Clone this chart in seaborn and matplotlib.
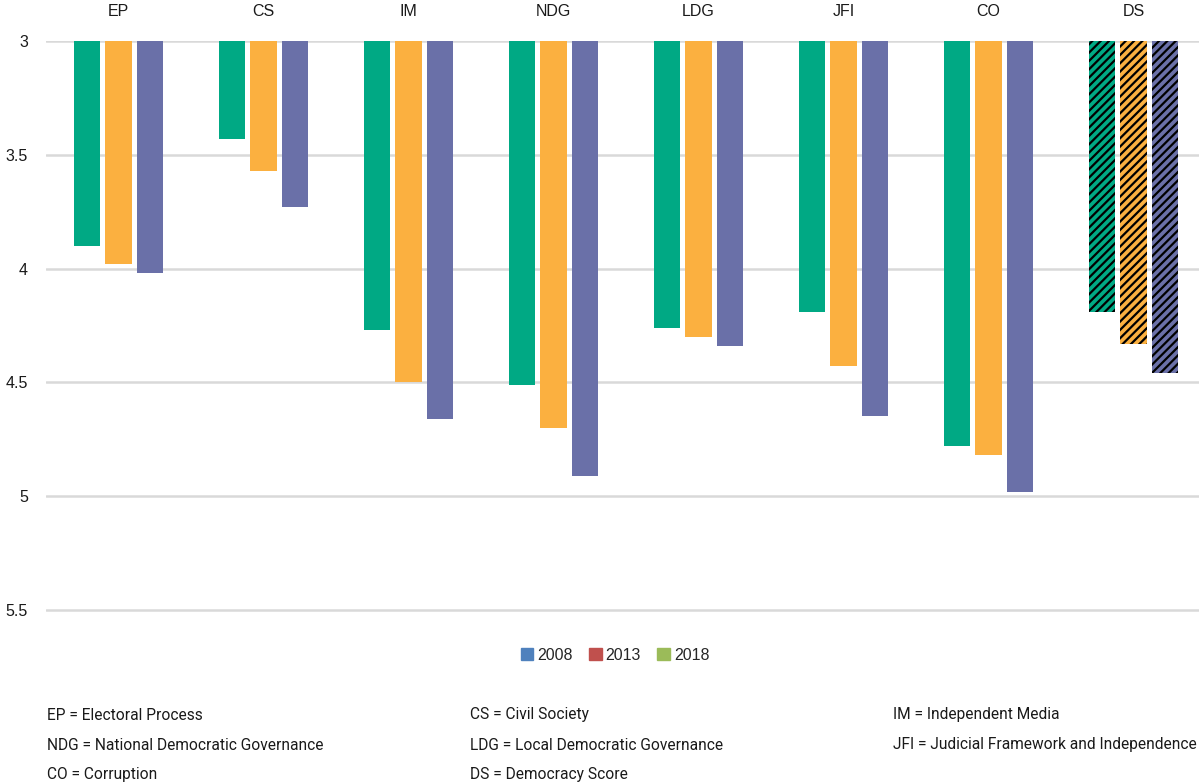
import pandas as pd
import seaborn as sns
import matplotlib.pyplot as plt
import matplotlib.patches as mpatches

# Nations in Transit category scores
categories = ["EP", "CS", "IM", "NDG", "LDG", "JFI", "CO", "DS"]
years = ["2008", "2013", "2018"]
scores_2008 = [3.90, 3.43, 4.27, 4.51, 4.26, 4.19, 4.78, 4.19]
scores_2013 = [3.98, 3.57, 4.50, 4.70, 4.30, 4.43, 4.82, 4.33]
scores_2018 = [4.02, 3.73, 4.66, 4.91, 4.34, 4.65, 4.98, 4.46]

bar_colors = ["#00A984", "#FBB040", "#6A70A8"]
legend_colors = ["#4F81BD", "#C0504D", "#9BBB59"]

footnotes = [
    ["EP = Electoral Process", "CS = Civil Society", "IM = Independent Media"],
    ["NDG = National Democratic Governance", "LDG = Local Democratic Governance",
     "JFI = Judicial Framework and Independence"],
    ["CO = Corruption", "DS = Democracy Score", ""],
]

df = pd.DataFrame({
    "category": categories * 3,
    "year": [y for y in years for _ in categories],
    "score": scores_2008 + scores_2013 + scores_2018,
})

sns.set_style("white")
plt.rcParams["font.family"] = ["Liberation Sans", "DejaVu Sans"]
plt.rcParams["hatch.linewidth"] = 1.6

fig = plt.figure(figsize=(11.99, 7.82), dpi=100)
ax = fig.add_axes([46 / 1199, 1 - 644 / 782, 1160 / 1199, 603 / 782])

sns.barplot(data=df, x="category", y="score", hue="year", palette=bar_colors,
            saturation=1, width=0.66, gap=0.18, linewidth=0, legend=False,
            ax=ax, zorder=3)

# Democracy Score bars get a hatch
for container in ax.containers:
    bar = container.patches[-1]
    bar.set_hatch("////")
    bar.set_edgecolor("black")
    bar.set_linewidth(0)

ax.set_ylim(5.65, 3)
ax.set_xlim(-0.5, 7.5)
ax.set_yticks([3, 3.5, 4, 4.5, 5, 5.5])
ax.set_yticklabels(["3", "3.5", "4", "4.5", "5", "5.5"])
ax.yaxis.grid(True, color="#D9D9D9", linewidth=1.8, zorder=0)
ax.xaxis.grid(False)
ax.xaxis.tick_top()
ax.tick_params(axis="x", length=0, pad=16, labelsize=11.5, colors="#1a1a1a")
ax.tick_params(axis="y", length=0, pad=13, labelsize=11.5, colors="#1a1a1a")
ax.set_xlabel("")
ax.set_ylabel("")
sns.despine(ax=ax, left=True, bottom=True, top=True, right=True)

handles = [mpatches.Patch(color=c, label=y) for c, y in zip(legend_colors, years)]
fig.legend(handles=handles, loc="center", bbox_to_anchor=(615 / 1199, 1 - 655 / 782),
           ncol=3, frameon=False, fontsize=11.5, handlelength=0.8, handleheight=0.8,
           handletextpad=0.25, columnspacing=1.0)

col_x = [47, 470, 893]
row_y = [715, 745, 774]
for r, row in enumerate(footnotes):
    for c, txt in enumerate(row):
        if txt:
            fig.text(col_x[c] / 1199, 1 - row_y[r] / 782, txt, ha="left", va="center",
                     fontsize=11.2, color="#1a1a1a", family=["Roboto", "DejaVu Sans"])

plt.savefig("out.png", dpi=100)
plt.close()
